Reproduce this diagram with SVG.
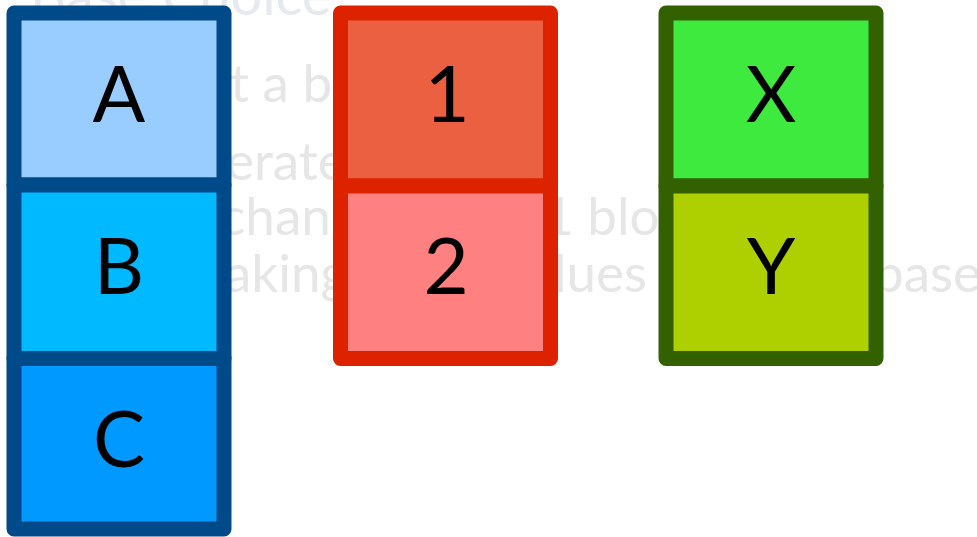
<svg xmlns="http://www.w3.org/2000/svg" width="977" height="537" viewBox="0 0 977 537">
<style>
.bg{font-family:Lato,"Liberation Sans",sans-serif;font-size:53px;fill:#e6e6e6}
.title{fill:#e6eaf0;font-size:56px}
.cell{stroke-width:15;stroke-linejoin:round}
.blue{stroke:#004a8a}
.red{stroke:#dd2200}
.green{stroke:#336000}
.lbl{font-family:Lato,"Liberation Sans",sans-serif;font-size:78px;fill:#000;text-anchor:middle}
</style>
<rect width="977" height="537" fill="#fff"/>
<g id="background-text">
<text class="bg title" x="30" y="15">Base Choice</text>
<text class="bg" x="230" y="102">t a b</text>
<text class="bg" x="226" y="180">erate</text>
<text class="bg" x="220" y="235">chang</text>
<text class="bg" x="543" y="235">1 bloc</text>
<text class="bg" x="225" y="292">aking</text>
<text class="bg" x="554" y="292">lues</text>
<text class="bg" x="874" y="292">base</text>
</g>
<g id="node-A"><rect class="cell blue" x="14" y="13" width="210" height="172" fill="#99ccff"/><text class="lbl" x="119" y="122">A</text></g>
<g id="node-B"><rect class="cell blue" x="14" y="185" width="210" height="173.5" fill="#00b9ff"/><text class="lbl" x="119" y="294">B</text></g>
<g id="node-C"><rect class="cell blue" x="14" y="358.5" width="210" height="170.5" fill="#0099ff"/><text class="lbl" x="119" y="467">C</text></g>
<g id="node-1"><rect class="cell red" x="340.5" y="13" width="210" height="173" fill="#eb6040"/><text class="lbl" x="447" y="122">1</text></g>
<g id="node-2"><rect class="cell red" x="340.5" y="186" width="210" height="172.5" fill="#ff8080"/><text class="lbl" x="446" y="294">2</text></g>
<g id="node-X"><rect class="cell green" x="666" y="13" width="210" height="173" fill="#3dea3d"/><text class="lbl" x="771" y="122">X</text></g>
<g id="node-Y"><rect class="cell green" x="666" y="186" width="210" height="172.5" fill="#afd000"/><text class="lbl" x="771" y="294">Y</text></g>
<g id="connectors"/>
</svg>
